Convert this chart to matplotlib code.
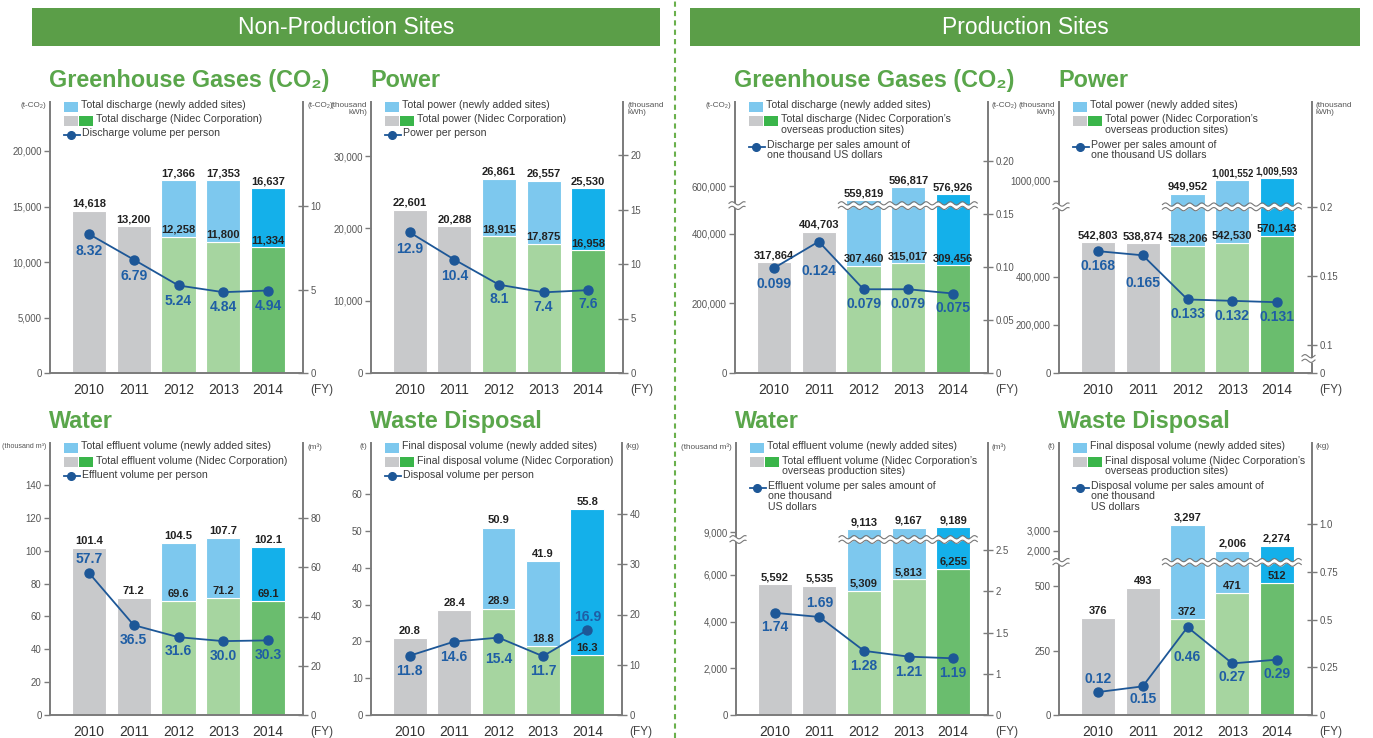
import numpy as np
import matplotlib
matplotlib.use('Agg')
import matplotlib.pyplot as plt
from matplotlib import font_manager
from matplotlib.patches import Rectangle
from matplotlib.lines import Line2D

# --- data ---
YEARS = ['2010', '2011', '2012', '2013', '2014']

NP_GHG_BASE = [14618, 13200, 12258, 11800, 11334]
NP_GHG_TOTAL = [14618, 13200, 17366, 17353, 16637]
NP_GHG_RATE = [8.32, 6.79, 5.24, 4.84, 4.94]

NP_POW_BASE = [22601, 20288, 18915, 17875, 16958]
NP_POW_TOTAL = [22601, 20288, 26861, 26557, 25530]
NP_POW_RATE = [12.9, 10.4, 8.1, 7.4, 7.6]

P_GHG_BASE = [317864, 404703, 307460, 315017, 309456]
P_GHG_TOTAL = [317864, 404703, 559819, 596817, 576926]
P_GHG_RATE = [0.099, 0.124, 0.079, 0.079, 0.075]

P_POW_BASE = [542803, 538874, 528206, 542530, 570143]
P_POW_TOTAL = [542803, 538874, 949952, 1001552, 1009593]
P_POW_RATE = [0.168, 0.165, 0.133, 0.132, 0.131]

NP_WAT_BASE = [101.4, 71.2, 69.6, 71.2, 69.1]
NP_WAT_TOTAL = [101.4, 71.2, 104.5, 107.7, 102.1]
NP_WAT_RATE = [57.7, 36.5, 31.6, 30.0, 30.3]

NP_WST_BASE = [20.8, 28.4, 28.9, 18.8, 16.3]
NP_WST_TOTAL = [20.8, 28.4, 50.9, 41.9, 55.8]
NP_WST_RATE = [11.8, 14.6, 15.4, 11.7, 16.9]

P_WAT_BASE = [5592, 5535, 5309, 5813, 6255]
P_WAT_TOTAL = [5592, 5535, 9113, 9167, 9189]
P_WAT_RATE = [1.74, 1.69, 1.28, 1.21, 1.19]

P_WST_BASE = [376, 493, 372, 471, 512]
P_WST_TOTAL = [376, 493, 3297, 2006, 2274]
P_WST_RATE = [0.12, 0.15, 0.46, 0.27, 0.29]

NP_GHG_LT = ['0', '5,000', '10,000', '15,000', '20,000']
NP_GHG_RT = ['0', '5', '10']
NP_POW_LT = ['0', '10,000', '20,000', '30,000']
NP_POW_RT = ['0', '5', '10', '15', '20']
P_GHG_LT = ['0', '200,000', '400,000', '600,000']
P_GHG_RT = ['0', '0.05', '0.10', '0.15', '0.20']
P_POW_LT = ['0', '200,000', '400,000', '1000,000']
P_POW_RT = ['0', '0.1', '0.15', '0.2']
NP_WAT_LT = ['0', '20', '40', '60', '80', '100', '120', '140']
NP_WAT_RT = ['0', '20', '40', '60', '80']
NP_WST_LT = ['0', '10', '20', '30', '40', '50', '60']
NP_WST_RT = ['0', '10', '20', '30', '40']
P_WAT_LT = ['0', '2,000', '4,000', '6,000', '9,000']
P_WAT_RT = ['0', '1', '1.5', '2', '2.5']
P_WST_LT = ['0', '250', '500', '2,000', '3,000']
P_WST_RT = ['0', '0.25', '0.5', '0.75', '1.0']

LEG_NP_GHG = ['Total discharge (newly added sites)', 'Total discharge (Nidec Corporation)',
              'Discharge volume per person']
LEG_NP_POW = ['Total power (newly added sites)', 'Total power (Nidec Corporation)', 'Power per person']
LEG_P_GHG = ['Total discharge (newly added sites)',
             'Total discharge (Nidec Corporation\u2019s\noverseas production sites)',
             'Discharge per sales amount of\none thousand US dollars']
LEG_P_POW = ['Total power (newly added sites)',
             'Total power (Nidec Corporation\u2019s\noverseas production sites)',
             'Power per sales amount of\none thousand US dollars']
LEG_NP_WAT = ['Total effluent volume (newly added sites)', 'Total effluent volume (Nidec Corporation)',
              'Effluent volume per person']
LEG_NP_WST = ['Final disposal volume (newly added sites)', 'Final disposal volume (Nidec Corporation)',
              'Disposal volume per person']
LEG_P_WAT = ['Total effluent volume (newly added sites)',
             'Total effluent volume (Nidec Corporation\u2019s\noverseas production sites)',
             'Effluent volume per sales amount of\none thousand\nUS dollars']
LEG_P_WST = ['Final disposal volume (newly added sites)',
             'Final disposal volume (Nidec Corporation\u2019s\noverseas production sites)',
             'Disposal volume per sales amount of\none thousand\nUS dollars']

# --- fonts ---
_names = {f.name for f in font_manager.fontManager.ttflist}
SANS = 'Liberation Sans' if 'Liberation Sans' in _names else 'DejaVu Sans'
HAS_NARROW = 'Liberation Sans Narrow' in _names
NARROW = 'Liberation Sans Narrow' if HAS_NARROW else SANS
NK = 1.0 if HAS_NARROW else 0.84
plt.rcParams['font.family'] = [SANS, 'DejaVu Sans']
FN = [NARROW, 'DejaVu Sans']

# --- colours ---
GREY = '#c8c9cb'
GREEN_L = '#a6d5a0'
GREEN_D = '#6abd6e'
BLUE_L = '#7dc8ee'
BLUE_D = '#14b0ea'
LEG_GREEN = '#3ab54a'
LINE = '#1d5797'
RATE_TXT = '#1f5ea5'
TITLE_G = '#5aa64b'
HEAD_G = '#5b9e48'
AXC = '#7b7b7b'
BASE_COLS = [GREY, GREY, GREEN_L, GREEN_L, GREEN_D]
TOP_COLS = [GREY, GREY, BLUE_L, BLUE_L, BLUE_D]

W, H = 1373, 738
fig = plt.figure(figsize=(W / 100, H / 100), dpi=100)
renderer = fig.canvas.get_renderer()


def ftext(x, y, s, **kw):
    return fig.text(x / W, 1 - y / H, s, **kw)


def frect(x, y, w, h, c):
    fig.add_artist(Rectangle((x / W, 1 - (y + h) / H), w / W, h / H,
                             transform=fig.transFigure, facecolor=c, edgecolor='none'))


def piecewise(knots):
    # value -> pixels above the axis bottom, linear between knots
    xs = np.array([k[0] for k in knots], float)
    ys = np.array([k[1] for k in knots], float)
    s0 = (ys[1] - ys[0]) / (xs[1] - xs[0])
    s1 = (ys[-1] - ys[-2]) / (xs[-1] - xs[-2])

    def fwd(v):
        v = np.asarray(v, float)
        out = np.interp(v, xs, ys)
        out = np.where(v > xs[-1], ys[-1] + (v - xs[-1]) * s1, out)
        return np.where(v < xs[0], ys[0] + (v - xs[0]) * s0, out)

    def inv(y):
        y = np.asarray(y, float)
        out = np.interp(y, ys, xs)
        out = np.where(y > ys[-1], xs[-1] + (y - ys[-1]) / s1, out)
        return np.where(y < ys[0], xs[0] + (y - ys[0]) / s0, out)
    return fwd, inv


def wave(ax, x0, x1, yfrac, trans, period, h_px):
    t = np.linspace(x0, x1, 200)
    ph = np.sin(2 * np.pi * (t - x0) / period) * 1.6 / h_px
    lo = yfrac - 2.3 / h_px + ph
    hi = yfrac + 2.3 / h_px + ph
    ax.fill_between(t, lo, hi, color='white', transform=trans, zorder=6, clip_on=False, lw=0)
    for yy in (lo, hi):
        ax.plot(t, yy, color='#777777', lw=0.8, transform=trans, zorder=7, clip_on=False)


def legend(L, T, labels):
    y = T + 5
    for i, lab in enumerate(labels):
        if i == 0:
            frect(L + 14, y - 5, 14, 10, BLUE_L)
            tx = L + 31
        elif i == 1:
            frect(L + 14, y - 5, 14, 10, GREY)
            frect(L + 29, y - 5, 14, 10, LEG_GREEN)
            tx = L + 46
        else:
            fig.add_artist(Line2D([(L + 14) / W, (L + 30) / W], [1 - y / H] * 2,
                                  transform=fig.transFigure, color=LINE, lw=1.3))
            fig.add_artist(Line2D([(L + 21) / W], [1 - y / H], transform=fig.transFigure,
                                  marker='o', ms=5.5, color=LINE))
            tx = L + 32
        ftext(tx, y - 6.5, lab, ha='left', va='top', fontsize=7.6, color='#3c3c3c', linespacing=1.05)
        y += 14 + 11.5 * lab.count('\n')


PANELS = [
    dict(box=(50, 303, 102, 373), title='Greenhouse Gases (CO\u2082)', base=NP_GHG_BASE, total=NP_GHG_TOTAL,
         rate=NP_GHG_RATE, lt=NP_GHG_LT, rt=NP_GHG_RT, lk=[(0, 0), (20000, 222)], rk=[(0, 0), (10, 167)],
         bfmt='{:,.0f}', rfmt='{:.2f}', units=('(t-CO\u2082)', '(t-CO\u2082)'), leg=LEG_NP_GHG,
         dy=[-17, -16, -16, -15, -15], brk=[]),
    dict(box=(371, 623, 102, 373), title='Power', base=NP_POW_BASE, total=NP_POW_TOTAL,
         rate=NP_POW_RATE, lt=NP_POW_LT, rt=NP_POW_RT, lk=[(0, 0), (30000, 217)], rk=[(0, 0), (20, 218)],
         bfmt='{:,.0f}', rfmt='{:.1f}', units=('(thousand\nkWh)', '(thousand\nkWh)'), leg=LEG_NP_POW,
         dy=[-17, -16, -14, -15, -14], brk=[]),
    dict(box=(735, 988, 102, 373), title='Greenhouse Gases (CO\u2082)', base=P_GHG_BASE, total=P_GHG_TOTAL,
         rate=P_GHG_RATE, lt=P_GHG_LT, rt=P_GHG_RT,
         lk=[(0, 0), (480000, 167.2), (545000, 167.6), (600000, 186.8)], rk=[(0, 0), (0.20, 212)],
         bfmt='{:,.0f}', rfmt='{:.3f}', units=('(t-CO\u2082)', '(t-CO\u2082)'), leg=LEG_P_GHG,
         dy=[-16, -29, -15, -15, -15], brk=[('l', 512500)]),
    dict(box=(1059, 1312, 102, 373), title='Power', base=P_POW_BASE, total=P_POW_TOTAL,
         rate=P_POW_RATE, lt=P_POW_LT, rt=P_POW_RT,
         lk=[(0, 0), (690000, 165.9), (900000, 166.4), (1000000, 192.3)],
         rk=[(0, 0), (0.02, 14), (0.09, 15), (0.1, 28), (0.2, 166)],
         bfmt='{:,.0f}', rfmt='{:.3f}', units=('(thousand\nkWh)', '(thousand\nkWh)'), leg=LEG_P_POW,
         dy=[-15, -28, -15, -15, -15], brk=[('l', 795000), ('r', 0.055)]),
    dict(box=(50, 303, 443, 715), title='Water', base=NP_WAT_BASE, total=NP_WAT_TOTAL,
         rate=NP_WAT_RATE, lt=NP_WAT_LT, rt=NP_WAT_RT, lk=[(0, 0), (140, 230)], rk=[(0, 0), (80, 197)],
         bfmt='{:.1f}', rfmt='{:.1f}', units=('(thousand m\u00b3)', '(m\u00b3)'), leg=LEG_NP_WAT,
         dy=[14, -15, -14, -15, -15], brk=[]),
    dict(box=(371, 622, 443, 715), title='Waste Disposal', base=NP_WST_BASE, total=NP_WST_TOTAL,
         rate=NP_WST_RATE, lt=NP_WST_LT, rt=NP_WST_RT, lk=[(0, 0), (60, 221)], rk=[(0, 0), (40, 201)],
         bfmt='{:.1f}', rfmt='{:.1f}', units=('(t)', '(kg)'), leg=LEG_NP_WST,
         dy=[-15, -15, -21, -15, 13], brk=[]),
    dict(box=(736, 988, 443, 715), title='Water', base=P_WAT_BASE, total=P_WAT_TOTAL,
         rate=P_WAT_RATE, lt=P_WAT_LT, rt=P_WAT_RT,
         lk=[(0, 0), (7500, 175.2), (8700, 175.8), (9000, 183)], rk=[(0, 0), (1, 41), (2.5, 165)],
         bfmt='{:,.0f}', rfmt='{:.2f}', units=('(thousand m\u00b3)', '(m\u00b3)'), leg=LEG_P_WAT,
         dy=[-14, 14, -15, -15, -15], brk=[('l', 8100)]),
    dict(box=(1059, 1312, 443, 715), title='Waste Disposal', base=P_WST_BASE, total=P_WST_TOTAL,
         rate=P_WST_RATE, lt=P_WST_LT, rt=P_WST_RT,
         lk=[(0, 0), (590, 152.2), (1450, 153), (3000, 184)], rk=[(0, 0), (1.0, 191)],
         bfmt='{:,.0f}', rfmt='{:.2f}', units=('(t)', '(kg)'), leg=LEG_P_WST,
         dy=[13, -13, -30, -14, -14], brk=[('l', 1020)]),
]


def bar_label(ax, s, xv, yv):
    size = 9.5 if len(s) <= 7 else 8.2
    ax.annotate(s, (xv, yv), xytext=(0, 1.5), textcoords='offset points', ha='center',
                va='bottom', fontsize=size * NK, fontweight='bold', color='#222222',
                family=FN, zorder=8)


def draw_panel(p):
    L, R, T, B = p['box']
    h = B - T
    ax = fig.add_axes([L / W, 1 - B / H, (R - L) / W, h / H])
    ax2 = ax.twinx()
    lf, li = piecewise(p['lk'])
    rf, ri = piecewise(p['rk'])
    ax.set_yscale('function', functions=(lf, li))
    ax2.set_yscale('function', functions=(rf, ri))
    ax.set_ylim(0, float(li(h)))
    ax2.set_ylim(0, float(ri(h)))
    ax.set_xlim(-0.87, 4.78)
    ax.autoscale(False)
    ax2.autoscale(False)

    x = np.arange(len(YEARS))
    base = np.array(p['base'], float)
    total = np.array(p['total'], float)
    add = total - base
    ax.bar(x, base, 0.76, color=BASE_COLS, edgecolor='white', linewidth=0.8, zorder=2)
    m = add > 0
    ax.bar(x[m], add[m], 0.76, bottom=base[m], color=np.array(TOP_COLS)[m],
           edgecolor='white', linewidth=0.8, zorder=2)
    for i in range(len(x)):
        bar_label(ax, p['bfmt'].format(total[i]), x[i], total[i])
        if add[i] > 0:
            bar_label(ax, p['bfmt'].format(base[i]), x[i], base[i])

    ax2.plot(x, p['rate'], color=LINE, lw=1.3, marker='o', ms=6.5, zorder=5)
    for i, r in enumerate(p['rate']):
        ax2.annotate(p['rfmt'].format(r), (x[i], r), xytext=(0, p['dy'][i] * 0.72),
                     textcoords='offset points', ha='center', va='center', fontsize=10,
                     fontweight='bold', color=RATE_TXT)

    for a in (ax, ax2):
        for s in a.spines.values():
            s.set_visible(False)
    for s in (ax.spines['left'], ax.spines['bottom'], ax2.spines['right']):
        s.set_visible(True)
        s.set_color(AXC)
        s.set_linewidth(1.4)

    ax.set_xticks(x, YEARS)
    ax.tick_params(axis='x', length=0, pad=7, labelsize=10, labelcolor='#333333')
    ax.set_yticks([float(s.replace(',', '')) for s in p['lt']], p['lt'])
    ax.tick_params(axis='y', direction='out', length=4, width=1, color=AXC,
                   labelsize=8.3 * NK, labelcolor='#555555', pad=2)
    ax2.set_yticks([float(s) for s in p['rt']], p['rt'])
    ax2.tick_params(axis='y', direction='inout', length=7, width=1, color=AXC,
                    labelsize=8.3 * NK, labelcolor='#555555', pad=2)
    for lab in ax.get_yticklabels() + ax2.get_yticklabels():
        lab.set_family(FN)

    for side, v in p['brk']:
        if side == 'l':
            yf = float(lf(v)) / h
            wave(ax, 1.44, 4.54, yf, ax.get_xaxis_transform(), 0.27, h)
            wave(ax, -6 / (R - L), 10 / (R - L), yf, ax.transAxes, 12 / (R - L), h)
        else:
            yf = float(rf(v)) / h
            wave(ax2, 1 - 10 / (R - L), 1 + 3 / (R - L), yf, ax2.transAxes, 12 / (R - L), h)

    ftext(L - 1, T - 15, p['title'], ha='left', va='baseline', fontsize=16.8,
          fontweight='bold', color=TITLE_G)
    us = 7 * NK
    ut = ftext(L - 4, T, p['units'][0], ha='right', va='top', fontsize=us, color='#555555',
               family=FN, multialignment='right', linespacing=1.0)
    wpx = ut.get_window_extent(renderer).width
    if wpx > L - 6:
        # shrink the unit label so it fits left of the axis
        ut.set_fontsize(us * (L - 6) / wpx)
    ftext(R + 4, T, p['units'][1], ha='left', va='top', fontsize=us, color='#555555',
          family=FN, linespacing=1.0)
    ftext(R + 19, B + 17, '(FY)', ha='center', va='center', fontsize=8.5, color='#444444')
    legend(L, T, p['leg'])


for p in PANELS:
    draw_panel(p)

# header banners and divider
frect(32, 8, 628, 38, HEAD_G)
frect(690, 8, 670, 38, HEAD_G)
ftext(346, 27, 'Non-Production Sites', ha='center', va='center', fontsize=18.5 if HAS_NARROW else 16.5,
      color='white', family=FN)
ftext(1025, 27, 'Production Sites', ha='center', va='center', fontsize=18.5 if HAS_NARROW else 16.5,
      color='white', family=FN)
fig.add_artist(Line2D([675 / W, 675 / W], [0, 1], transform=fig.transFigure, color='#6ab04c',
                      lw=1.5, linestyle=(0, (2.5, 2))))

fig.savefig('out.png', dpi=100, facecolor='white')
